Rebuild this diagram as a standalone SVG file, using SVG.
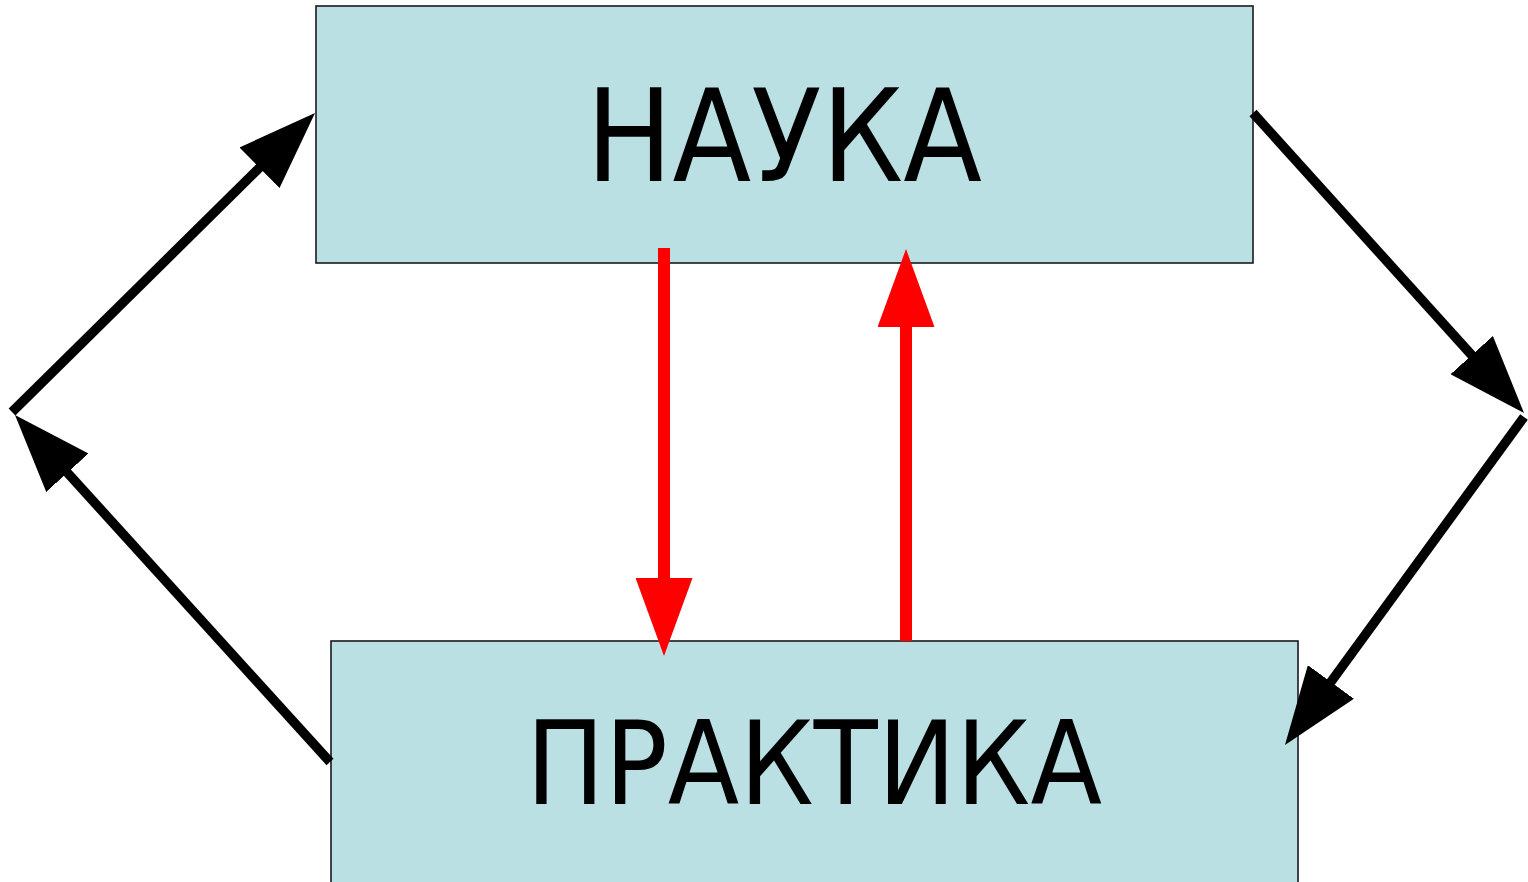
<svg xmlns="http://www.w3.org/2000/svg" width="1528" height="882" viewBox="0 0 1528 882">
<style>
.box{fill:#bae0e3;stroke:#1a1a1a;stroke-width:1.6}
.lbl{font-family:"DejaVu Sans","Liberation Sans",sans-serif;fill:#000}
.blk{stroke:#000;stroke-width:9.5;fill:none}
.red{stroke:#ff0000;stroke-width:12;fill:none}
</style>
<defs>
<marker id="ab" markerUnits="userSpaceOnUse" viewBox="0 0 78 57" refX="18" refY="28.5" markerWidth="78" markerHeight="57" orient="auto">
<path d="M0,0 L78,28.5 L0,57 Z" fill="#000"/>
</marker>
<marker id="ar" markerUnits="userSpaceOnUse" viewBox="0 0 78 57" refX="18" refY="28.5" markerWidth="78" markerHeight="57" orient="auto">
<path d="M0,0 L78,28.5 L0,57 Z" fill="#ff0000"/>
</marker>
</defs>
<rect width="1528" height="882" fill="#fff"/>
<g id="nauka">
<rect class="box" x="316" y="6" width="937" height="257"/>
<text class="lbl" x="586" y="181" font-size="127.6" textLength="396" lengthAdjust="spacingAndGlyphs">НАУКА</text>
</g>
<g id="praktika">
<rect class="box" x="331" y="641" width="967" height="260"/>
<text class="lbl" x="526" y="804" font-size="116.6" textLength="576" lengthAdjust="spacingAndGlyphs">ПРАКТИКА</text>
</g>
<g id="connectors">
<line class="blk" x1="12" y1="412" x2="272.3" y2="155.1" marker-end="url(#ab)"/>
<line class="blk" x1="330" y1="762" x2="55.3" y2="459.4" marker-end="url(#ab)"/>
<line class="blk" x1="1253" y1="113" x2="1483.8" y2="368.5" marker-end="url(#ab)"/>
<line class="blk" x1="1524" y1="417" x2="1320.3" y2="696.5" marker-end="url(#ab)"/>
<line class="red" x1="664" y1="248" x2="664" y2="596" marker-end="url(#ar)"/>
<line class="red" x1="906" y1="641" x2="906" y2="309" marker-end="url(#ar)"/>
</g>
</svg>
